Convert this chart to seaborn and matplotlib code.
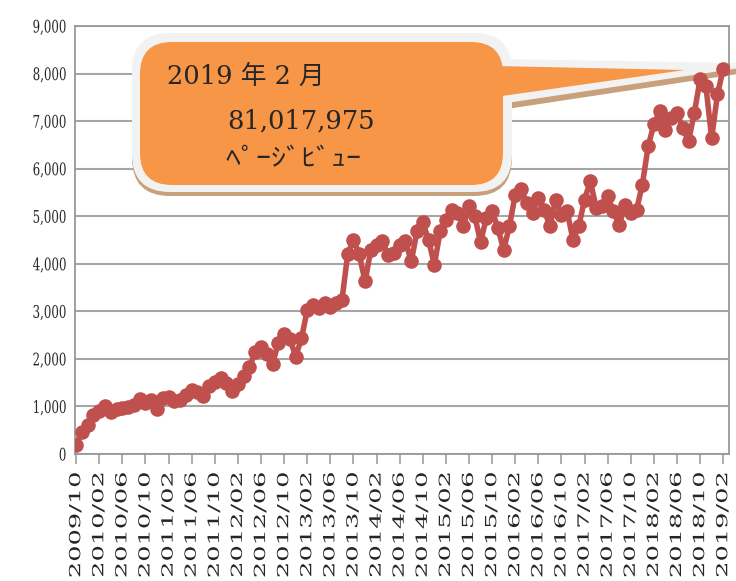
import matplotlib
matplotlib.use('Agg')
import matplotlib.pyplot as plt
import matplotlib.patches as mpatches
from matplotlib.patheffects import AbstractPathEffect
from matplotlib.transforms import Affine2D
from matplotlib.ticker import FuncFormatter
import numpy as np
import pandas as pd
import seaborn as sns

# monthly page views (unit: 10,000 views), 2009/10 .. 2019/02
months = pd.period_range('2009-10', '2019-02', freq='M').strftime('%Y/%m').tolist()
views = [190, 470, 620, 830, 900, 1000, 880, 950, 960, 990,
         1040, 1150, 1080, 1130, 950, 1180, 1200, 1120, 1130, 1240,
         1340, 1300, 1210, 1420, 1520, 1590, 1500, 1320, 1480, 1650,
         1830, 2140, 2240, 2100, 1900, 2340, 2520, 2420, 2050, 2430,
         3030, 3140, 3070, 3170, 3100, 3170, 3230, 4200, 4500, 4200,
         3630, 4290, 4400, 4470, 4190, 4230, 4400, 4470, 4050, 4680,
         4870, 4500, 3980, 4680, 4930, 5130, 5070, 4790, 5210, 5000,
         4460, 4960, 5110, 4750, 4290, 4800, 5450, 5580, 5280, 5070,
         5390, 5140, 4790, 5350, 5035, 5100, 4500, 4790, 5350, 5740,
         5180, 5210, 5420, 5100, 4820, 5240, 5070, 5140, 5660, 6470,
         6930, 7210, 6820, 7070, 7170, 6860, 6580, 7170, 7880, 7740,
         6640, 7560, 8102]
yticks = list(range(0, 9001, 1000))
callout_month = '2019 年 2 月'
callout_total = '81,017,975'
callout_unit = 'ﾍﾟｰｼﾞﾋﾞｭｰ'

RED = '#C0504D'
GRID = '#A6A6A6'


class Stretch(AbstractPathEffect):
    # widen / squash text along its baseline, one end stays put
    def __init__(self, sx=1.0, keep='right'):
        super().__init__()
        self.sx = sx
        self.keep = keep

    def draw_path(self, renderer, gc, tpath, affine, rgbFace=None):
        ext = tpath.get_extents()
        x0 = ext.x1 if self.keep == 'right' else 0
        pre = Affine2D().translate(-x0, 0).scale(self.sx, 1).translate(x0, 0)
        renderer.draw_path(gc, tpath, pre + affine, rgbFace)


sns.set_style('white')
plt.rcParams['font.family'] = ['DejaVu Serif', 'Noto Sans CJK JP']

W, H = 736, 581
fig = plt.figure(figsize=(W / 100, H / 100), dpi=100)
ax = fig.add_axes([75 / W, 1 - 454 / H, (729 - 75) / W, (454 - 26) / H])

x = np.arange(len(views))
sns.lineplot(x=x, y=views, ax=ax, color=RED, linewidth=4, marker='o',
             markersize=10.5, markeredgewidth=0, zorder=4)

ax.set_xlim(-0.2, 113)
ax.set_ylim(0, 9000)
ax.set_xticks(x[::4])
ax.set_xticklabels(months[::4])
ax.set_yticks(yticks)
ax.yaxis.set_major_formatter(FuncFormatter(lambda v, p: f'{int(v):,}'))
ax.set_xlabel('')
ax.set_ylabel('')

ax.set_axisbelow(True)
ax.yaxis.grid(True, color=GRID, linewidth=1.5)
ax.xaxis.grid(False)
for sp in ax.spines.values():
    sp.set_visible(True)
    sp.set_color('#989898')
    sp.set_linewidth(1.3)

ax.tick_params(axis='x', length=7, width=1.2, color='#A0A0A0', pad=6,
               labelsize=11, labelrotation=90, bottom=True)
ax.tick_params(axis='y', length=0, pad=6, labelsize=12.5)
for lab in ax.get_xticklabels():
    lab.set_path_effects([Stretch(1.68)])
for lab in ax.get_yticklabels():
    lab.set_path_effects([Stretch(0.68)])

# callout, drawn in pixel coordinates (origin top-left)
px = Affine2D().scale(1 / 100, -1 / 100).translate(0, H / 100) + fig.dpi_scale_trans


def rbox(x0, y0, x1, y1, r, color, z):
    p = mpatches.FancyBboxPatch((x0, y0), x1 - x0, y1 - y0,
                                boxstyle=f'round,pad=0,rounding_size={r}',
                                transform=px, clip_on=False, facecolor=color,
                                edgecolor='none', zorder=z)
    ax.add_patch(p)


def tail(pts, color, z):
    ax.add_patch(mpatches.Polygon(pts, closed=True, transform=px, clip_on=False,
                                  facecolor=color, edgecolor='none', zorder=z))


rbox(132, 37, 512, 196, 38, '#C9A07C', 2)
tail([(500, 64), (740, 68), (738, 74), (500, 110)], '#C9A07C', 2)
rbox(132, 33, 512, 192, 38, '#F2F2F2', 2.1)
tail([(500, 59), (740, 63), (740, 68), (500, 104)], '#F2F2F2', 2.1)
rbox(140, 42, 503, 185, 32, '#F79646', 2.2)
tail([(495, 66), (685, 70), (495, 97)], '#F79646', 2.2)

ax.text(167, 84, callout_month, transform=px, fontsize=18.5, ha='left',
        va='baseline', zorder=5)
ax.text(227, 129, callout_total, transform=px, fontsize=18.5, ha='left',
        va='baseline', zorder=5)
t = ax.text(226, 166, callout_unit, transform=px, fontsize=18, ha='left',
            va='baseline', zorder=5, family=['Noto Sans CJK JP', 'DejaVu Serif'])
t.set_path_effects([Stretch(1.2, keep='left')])

fig.savefig('out.png', dpi=100, facecolor='white')
